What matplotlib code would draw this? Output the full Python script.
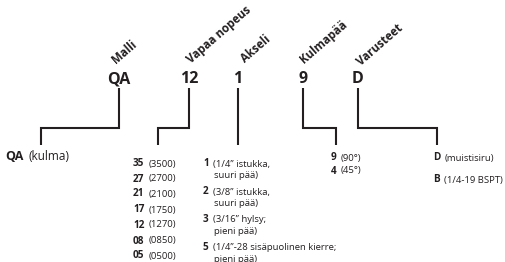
import matplotlib
matplotlib.use('Agg')
import matplotlib.pyplot as plt

plt.rcParams['font.family'] = ['Open Sans', 'DejaVu Sans']

INK = '#231f20'

# model code parts and their headers
codes = ['QA', '12', '1', '9', 'D']
headers = ['Malli', 'Vapaa nopeus', 'Akseli', 'Kulmapää', 'Varusteet']

# options listed under each code part
model_opts = [('QA', ['(kulma)'])]
speed_opts = [('35', ['(3500)']), ('27', ['(2700)']), ('21', ['(2100)']),
              ('17', ['(1750)']), ('12', ['(1270)']), ('08', ['(0850)']),
              ('05', ['(0500)'])]
axle_opts = [('1', ['(1/4” istukka,', 'suuri pää)']),
             ('2', ['(3/8” istukka,', 'suuri pää)']),
             ('3', ['(3/16” hylsy;', 'pieni pää)']),
             ('5', ['(1/4”-28 sisäpuolinen kierre;', 'pieni pää)'])]
angle_opts = [('9', ['(90°)']), ('4', ['(45°)'])]
acc_opts = [('D', ['(muistisiru)']), ('B', ['(1/4-19 BSPT)'])]

# layout (pixels)
code_x = [119, 189, 238, 303, 358]
code_base = 83
head_xy = [(116, 64), (191, 64), (245, 63), (304, 64), (361, 66)]
drop_x = [41, 158, 238, 336, 437]
list_x = [5, 133, 203, 331, 433]
list_y = [[157], [163, 178, 193, 209, 224, 240, 255],
          [163, 191, 219, 247], [157, 170], [157, 179]]
line_gap = 11.5

fig = plt.figure(figsize=(5.06, 2.62), dpi=100)
ax = fig.add_axes([0, 0, 1, 1])
ax.set_xlim(0, 506)
ax.set_ylim(262, 0)
ax.axis('off')

for c, x in zip(codes, code_x):
    ax.text(x, code_base, c, fontsize=11.5, fontweight='bold', color=INK,
            ha='center', va='baseline')

for h, (x, y) in zip(headers, head_xy):
    ax.text(x, y, h, fontsize=8.3, fontweight='bold', color=INK, rotation=41,
            rotation_mode='anchor', ha='left', va='baseline')

for x0, x1 in zip(code_x, drop_x):
    ax.plot([x0, x0, x1, x1], [88, 128, 128, 145], color=INK, lw=1.5,
            solid_joinstyle='miter', solid_capstyle='butt')

fig.canvas.draw()
renderer = fig.canvas.get_renderer()

groups = [model_opts, speed_opts, axle_opts, angle_opts, acc_opts]
for gi, (opts, x, ys) in enumerate(zip(groups, list_x, list_y)):
    big = gi == 0
    for (key, lines), y in zip(opts, ys):
        t = ax.text(x, y + 3.5, key, fontsize=9 if big else 7.2,
                    fontweight='bold', color=INK, va='baseline')
        bb = t.get_window_extent(renderer)
        tx = bb.x1 + (5 if big else 4)
        for k, ln in enumerate(lines):
            ax.text(tx + (1 if k else 0), y + 3.5 + k * line_gap, ln,
                    fontsize=8.5 if big else 6.8, color=INK, va='baseline')

fig.savefig('out.png', dpi=100)
